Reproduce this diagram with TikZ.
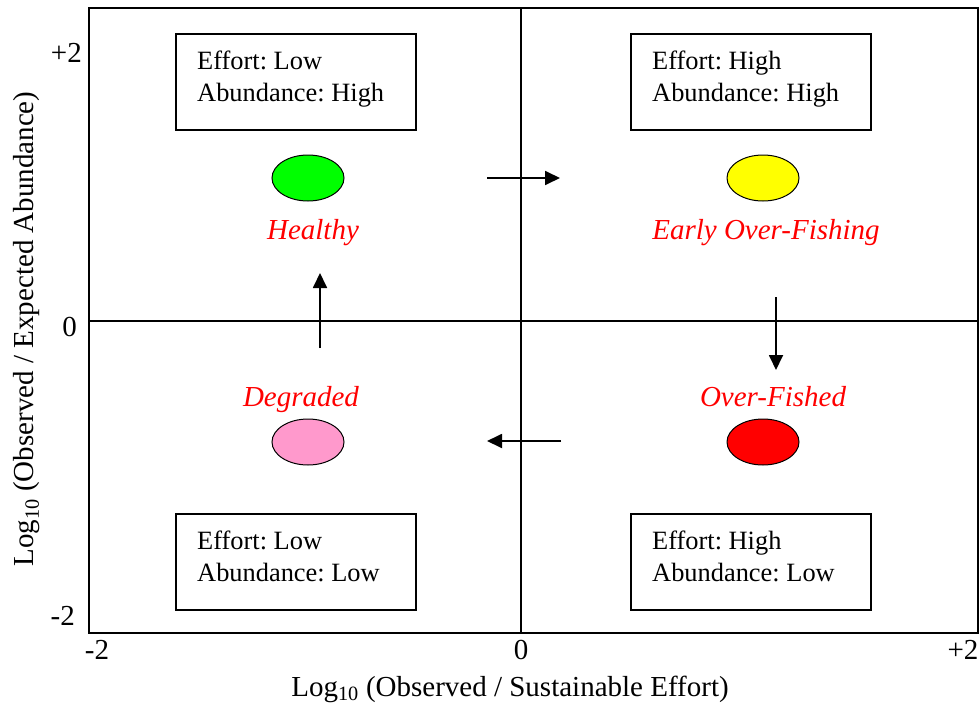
\documentclass[tikz,border=0pt]{standalone}
\usepackage{fontspec}
\setmainfont{Liberation Serif}
\usetikzlibrary{arrows.meta,shapes.geometric}
\begin{document}
\frenchspacing
\begin{tikzpicture}[x=1pt,y=-1pt,
  txt/.style={font=\fontsize{29}{33}\selectfont, inner sep=0pt},
  boxtxt/.style={font=\fontsize{26.4}{31}\selectfont, inner sep=0pt, anchor=base west},
  infobox/.style={draw, line width=1.5pt, minimum width=240pt, minimum height=96pt, inner sep=0pt},
  blob/.style={draw, line width=1pt, ellipse, minimum width=72pt, minimum height=46pt, inner sep=0pt},
  statelbl/.style={text=red, font=\fontsize{29}{33}\selectfont\itshape, inner sep=0pt, anchor=base},
  flow/.style={line width=1.8pt, -{Triangle[length=15pt,width=14pt]}}]
\useasboundingbox (0,0) rectangle (980,704);
% frame and axes
\draw[line width=2pt] (89,8) rectangle (978,633);
\draw[line width=1.8pt] (521,8) -- (521,633);
\draw[line width=1.8pt] (89,321) -- (978,321);
% tick labels
\node[txt, anchor=base east] (yp2) at (82,62) {+2};
\node[txt, anchor=base east] (y0) at (77,336) {0};
\node[txt, anchor=base east] (ym2) at (75,625) {-2};
\node[txt, anchor=base] (xm2) at (97,659) {-2};
\node[txt, anchor=base] (x0) at (521,659) {0};
\node[txt, anchor=base] (xp2) at (963,659) {+2};
% axis titles
\node[txt, anchor=base] (xlab) at (510,696) {Log\textsubscript{10} (Observed / Sustainable Effort)};
\node[txt, rotate=90] (ylab) at (27,329) {Log\textsubscript{10} (Observed / Expected Abundance)};
% info boxes
\node[infobox] (tl) at (296,82) {};
\node[infobox] (tr) at (751,82) {};
\node[infobox] (bl) at (296,562) {};
\node[infobox] (br) at (751,562) {};
\node[boxtxt] (tl1) at (197,69) {Effort: Low};
\node[boxtxt] (tl2) at (197,101) {Abundance: High};
\node[boxtxt] (tr1) at (652,69) {Effort: High};
\node[boxtxt] (tr2) at (652,101) {Abundance: High};
\node[boxtxt] (bl1) at (197,549) {Effort: Low};
\node[boxtxt] (bl2) at (197,581) {Abundance: Low};
\node[boxtxt] (br1) at (652,549) {Effort: High};
\node[boxtxt] (br2) at (652,581) {Abundance: Low};
% state ellipses
\node[blob, fill={rgb,255:red,0;green,255;blue,0}] (healthy) at (308,178) {};
\node[blob, fill={rgb,255:red,255;green,255;blue,0}] (early) at (763,178) {};
\node[blob, fill={rgb,255:red,255;green,153;blue,204}] (degraded) at (308,442) {};
\node[blob, fill={rgb,255:red,255;green,0;blue,0}] (over) at (763,442) {};
% state labels
\node[statelbl] (lh) at (313,239) {Healthy};
\node[statelbl] (le) at (766,239) {Early Over-Fishing};
\node[statelbl] (ld) at (301,406) {Degraded};
\node[statelbl] (lo) at (773,406) {Over-Fished};
% transition arrows
\coordinate (a1s) at (487,178); \coordinate (a1e) at (560,178);
\coordinate (a2s) at (776,297); \coordinate (a2e) at (776,370);
\coordinate (a3s) at (561,441); \coordinate (a3e) at (487,441);
\coordinate (a4s) at (320,348); \coordinate (a4e) at (320,273);
\draw[flow] (a1s) -- (a1e);
\draw[flow] (a2s) -- (a2e);
\draw[flow] (a3s) -- (a3e);
\draw[flow] (a4s) -- (a4e);
\end{tikzpicture}
\end{document}
